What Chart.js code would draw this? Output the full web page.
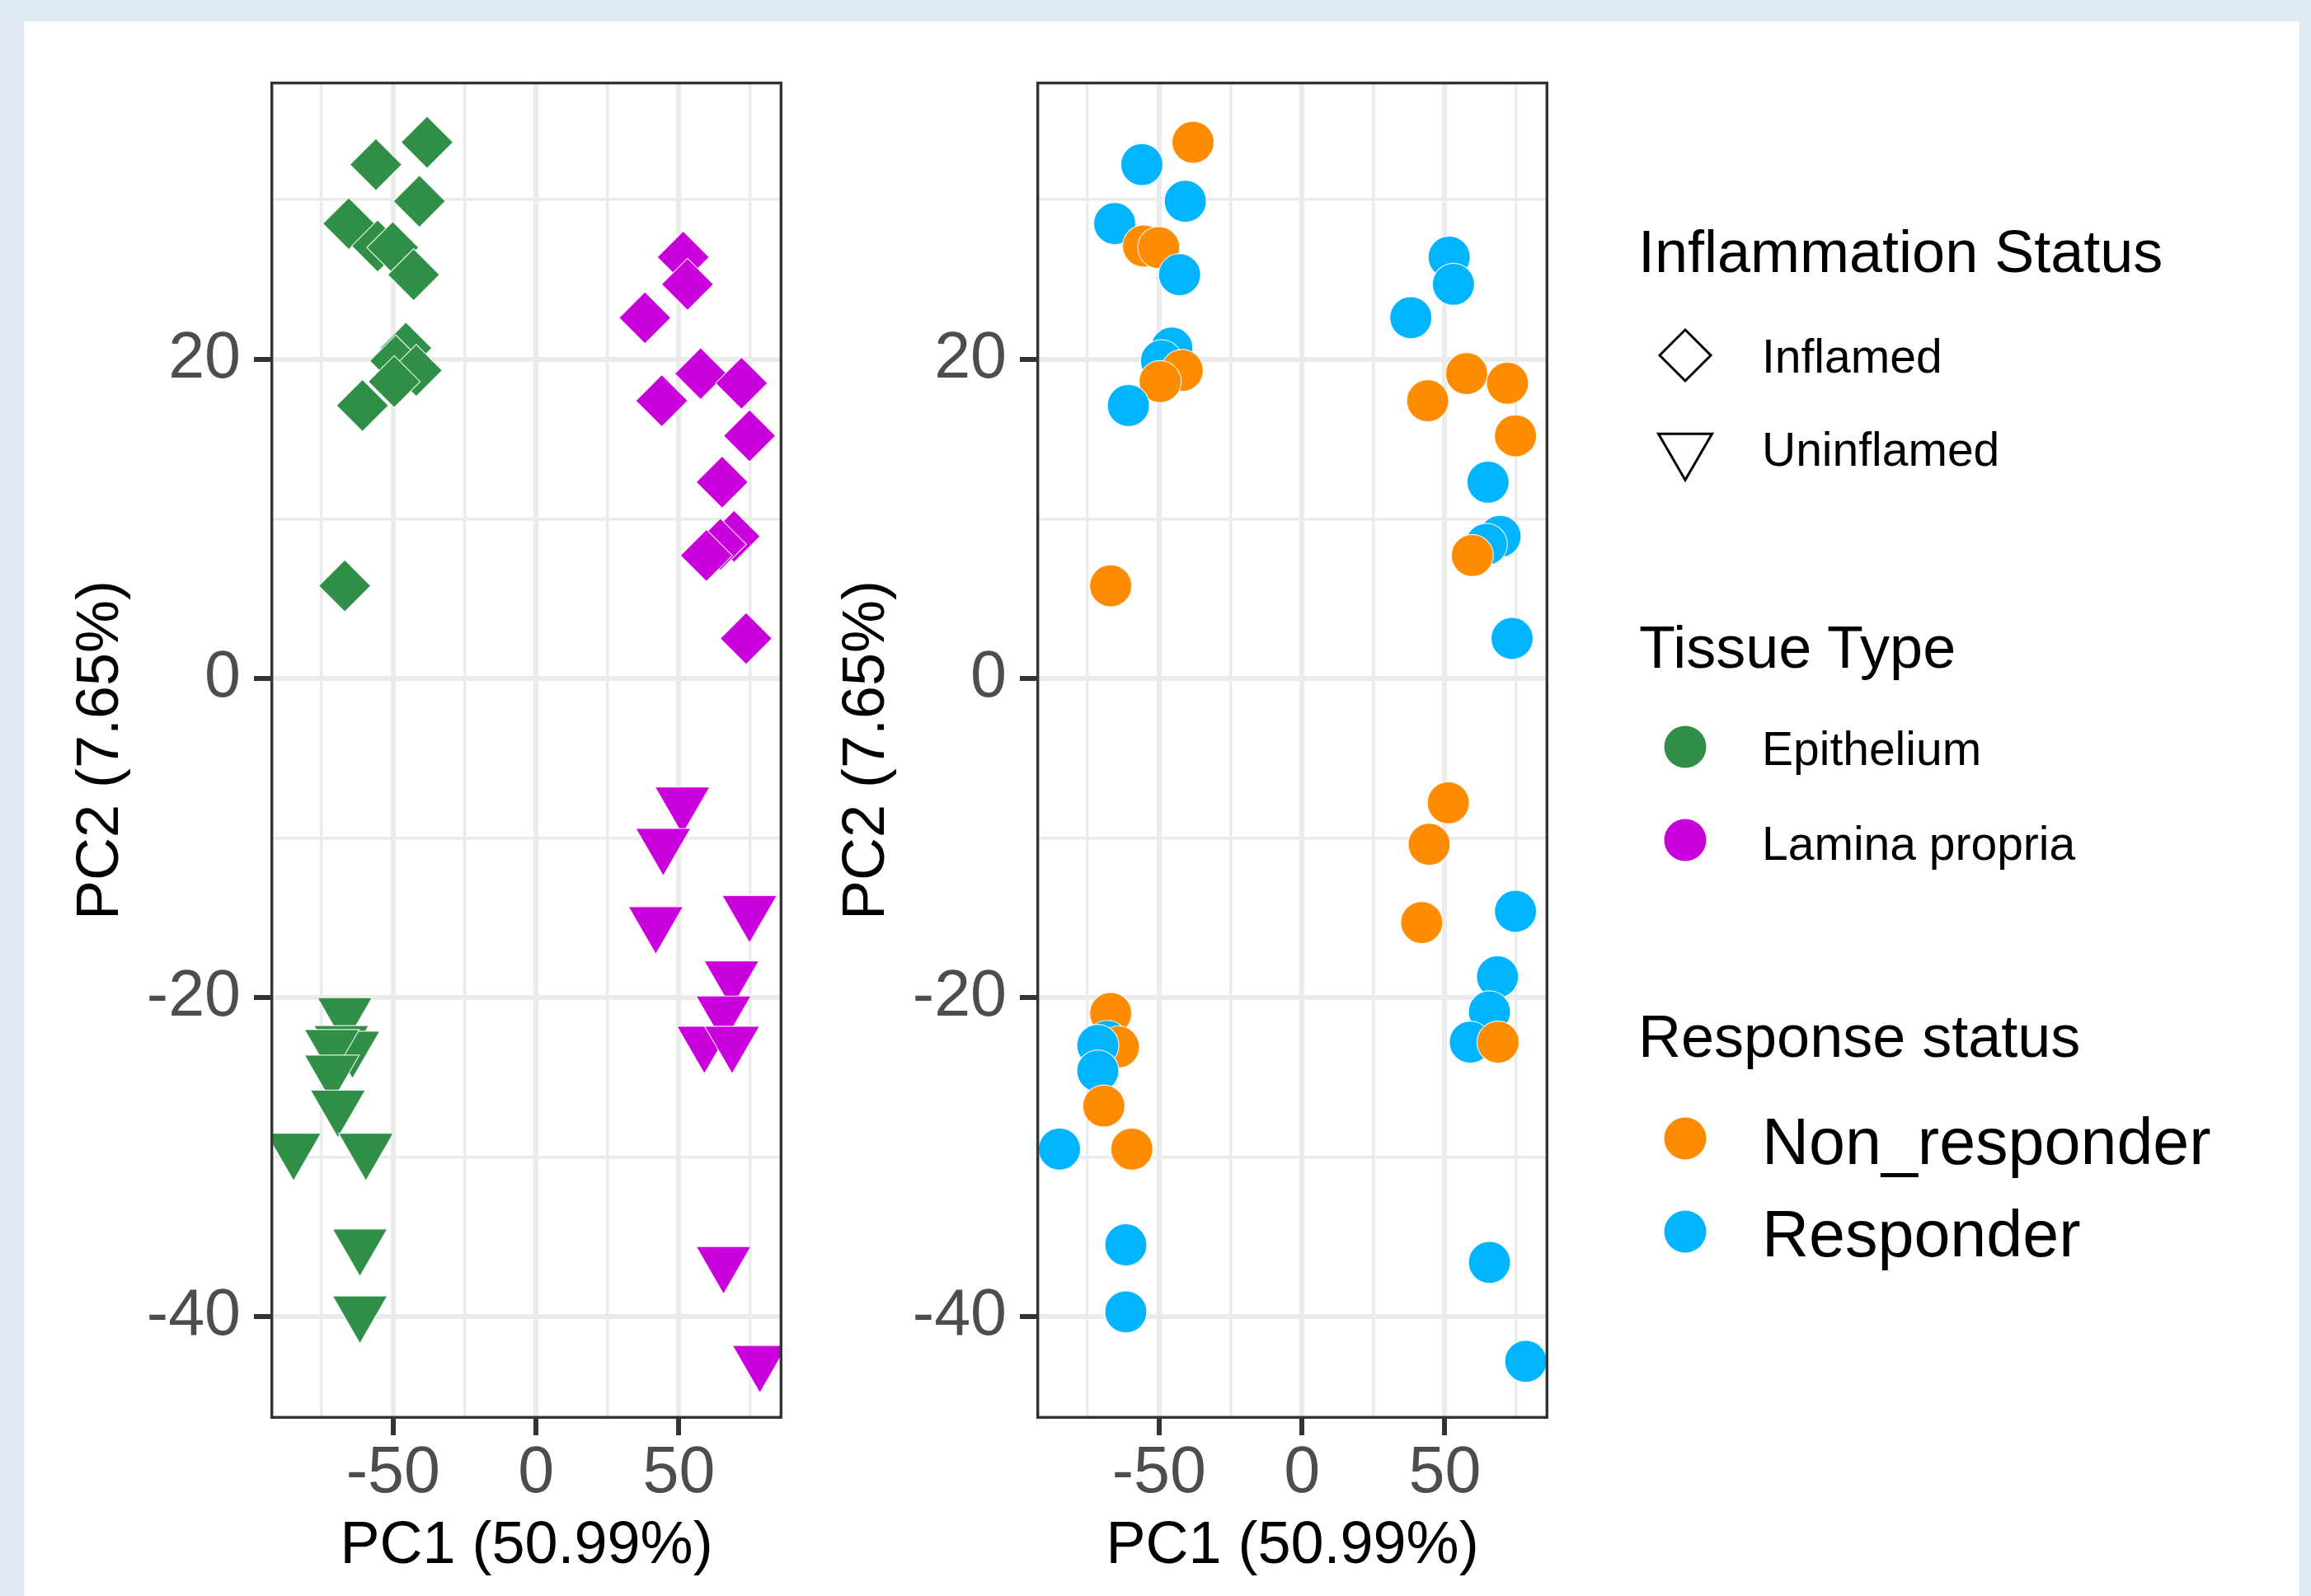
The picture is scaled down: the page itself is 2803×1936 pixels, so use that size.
<!DOCTYPE html>
<html>
<head>
<meta charset="utf-8">
<title>PCA by tissue, inflammation and response</title>
<script src="https://cdn.jsdelivr.net/npm/chart.js@4.4.1/dist/chart.umd.min.js"></script>
<style>
  html, body { margin: 0; padding: 0; }
  body {
    width: 2803px; height: 1936px; overflow: hidden; position: relative;
    background: #dfeaf4;
    font-family: 'Liberation Sans', Helvetica, Arial, sans-serif;
  }
  .card { position: absolute; left: 29px; top: 26px; width: 2760px; height: 1960px; background: #fff; }
  canvas { position: absolute; top: 26px; }
  #pcaTissue { left: 29px; }
  #pcaResponse { left: 958px; }
  .lg-text { position: absolute; white-space: nowrap; color: #000; }
  .lg-key { position: absolute; }
</style>
</head>
<body>
<div class="card"></div>
<canvas id="pcaTissue" width="930" height="1910"></canvas>
<canvas id="pcaResponse" width="930" height="1910"></canvas>
<div id="legend"></div>
<script>
// PCA scores, one entry per sample
const pc1 = [
  -38.1, -56.0, -40.8, -65.5, -55.4, -50.1, -42.8, -45.5, -49.1, -41.9, -49.6, -60.7, -66.9,
  51.5, 53.0, 38.1, 57.6, 71.9, 44.0, 74.7, 65.1, 69.3, 64.5, 59.6, 73.5,
  -66.9, -68.1, -64.2, -71.4, -71.4, -69.3, -84.8, -59.5, -61.6, -61.6,
  51.2, 44.5, 41.9, 74.7, 68.4, 65.6, 58.9, 68.6, 65.6, 78.3
];
const pc2 = [
  33.6, 32.2, 29.9, 28.5, 27.1, 27.0, 25.3, 20.7, 19.9, 19.3, 18.6, 17.1, 5.8,
  26.4, 24.7, 22.6, 19.1, 18.5, 17.4, 15.2, 12.3, 8.9, 8.4, 7.7, 2.5,
  -21.0, -22.75, -23.1, -23.0, -24.6, -26.8, -29.5, -29.5, -35.5, -39.7,
  -7.8, -10.4, -15.3, -14.6, -18.7, -20.9, -22.8, -22.8, -36.6, -42.8
];
// E = Epithelium, L = Lamina propria
const tissue = 'EEEEEEEEEEEEELLLLLLLLLLLLEEEEEEEEEELLLLLLLLLL'.split('');
// I = Inflamed, U = Uninflamed
const inflammation = 'IIIIIIIIIIIIIIIIIIIIIIIIIUUUUUUUUUUUUUUUUUUUU'.split('');
// N = Non_responder, R = Responder
const response = 'NRRRNNRRRNNRNRRRNNNNRRRNRNRNRRNRNRRNNNRRRRNRR'.split('');

const tissueLevels = ['Epithelium', 'Lamina propria'];
const inflammationLevels = ['Inflamed', 'Uninflamed'];
const responseLevels = ['Non_responder', 'Responder'];

const xRange = [-92.9, 86.2];
const yRange = [-46.4, 37.4];
const xGridValues = [-75, -50, -25, 0, 25, 50, 75];
const yGridValues = [-40, -30, -20, -10, 0, 10, 20, 30];
const xTickLabels = [-50, 0, 50];
const yTickLabels = [-40, -20, 0, 20];

const tissueColours = { E: '#2f8f46', L: '#c900dc' };
const responseColours = { N: '#ff8c00', R: '#00b4ff' };

Chart.defaults.font.family = "'Liberation Sans', Helvetica, Arial, sans-serif";

// ggplot-like panel border drawn on top of the points
const panelBorder = {
  id: 'panelBorder',
  afterDatasetsDraw(chart) {
    const { ctx, chartArea: a } = chart;
    ctx.save();
    ctx.strokeStyle = '#333333';
    ctx.lineWidth = 3.4;
    ctx.strokeRect(a.left + 1.7, a.top + 1.7, a.right - a.left - 3.4, a.bottom - a.top - 3.4);
    ctx.restore();
  }
};

function gridOpts(majors) {
  return {
    color: '#ebebeb',
    lineWidth: c => majors.includes(c.tick.value) ? 6 : 3.5,
    tickLength: 20,
    tickWidth: 6,
    tickColor: c => majors.includes(c.tick.value) ? '#333333' : 'rgba(0,0,0,0)'
  };
}

function makePanel(id, colours, styles, rotations, radii) {
  return new Chart(document.getElementById(id), {
    type: 'scatter',
    data: {
      datasets: [{
        data: pc1.map((x, i) => ({ x: x, y: pc2[i] })),
        pointBackgroundColor: colours,
        pointBorderColor: 'rgba(255,255,255,0.85)',
        pointBorderWidth: 1.2,
        pointStyle: styles,
        pointRotation: rotations,
        pointRadius: radii,
        clip: 0
      }]
    },
    options: {
      responsive: false,
      animation: false,
      events: [],
      layout: { autoPadding: false, padding: { top: 73, right: 10, left: 0, bottom: 0 } },
      plugins: { legend: { display: false }, tooltip: { enabled: false } },
      scales: {
        x: {
          type: 'linear',
          min: xRange[0],
          max: xRange[1],
          afterBuildTicks: s => { s.ticks = xGridValues.map(v => ({ value: v })); },
          afterFit: s => { s.height = 215; },
          ticks: {
            autoSkip: false, maxRotation: 0, minRotation: 0, padding: 0,
            color: '#4d4d4d', font: { size: 79 },
            callback: v => xTickLabels.includes(v) ? String(v) : ''
          },
          grid: gridOpts(xTickLabels),
          border: { display: false },
          title: {
            display: true, text: 'PC1 (50.99%)', color: '#000',
            font: { size: 72 }, padding: { top: 0, bottom: 17 }
          }
        },
        y: {
          type: 'linear',
          min: yRange[0],
          max: yRange[1],
          afterBuildTicks: s => { s.ticks = yGridValues.map(v => ({ value: v })); },
          afterFit: s => { s.width = 299; },
          ticks: {
            autoSkip: false, padding: 16,
            color: '#4d4d4d', font: { size: 79 },
            callback: v => yTickLabels.includes(v) ? String(v) : ''
          },
          grid: gridOpts(yTickLabels),
          border: { display: false },
          title: {
            display: true, text: 'PC2 (7.65%)', color: '#000',
            font: { size: 72 }, padding: { top: 51, bottom: 0 }
          }
        }
      }
    },
    plugins: [panelBorder]
  });
}

// left: colour = tissue, shape = inflammation
makePanel(
  'pcaTissue',
  tissue.map(t => tissueColours[t]),
  inflammation.map(f => f === 'I' ? 'rectRot' : 'triangle'),
  inflammation.map(f => f === 'I' ? 0 : 180),
  inflammation.map(f => f === 'I' ? 31.5 : 38.4)
);

// right: colour = response status, all circles
makePanel(
  'pcaResponse',
  response.map(r => responseColours[r]),
  response.map(() => 'circle'),
  response.map(() => 0),
  response.map(() => 25.5)
);

// legend (HTML, to the right of the panels)
const legend = document.getElementById('legend');
const keyX = 2044;

function addText(text, left, baseline, size) {
  const d = document.createElement('div');
  d.className = 'lg-text';
  d.textContent = text;
  d.style.fontSize = size + 'px';
  d.style.lineHeight = size + 'px';
  d.style.left = left + 'px';
  d.style.top = (baseline - 0.8465 * size) + 'px';
  legend.appendChild(d);
}

function addKey(kind, cy, colour) {
  const ns = 'http://www.w3.org/2000/svg';
  const svg = document.createElementNS(ns, 'svg');
  svg.setAttribute('width', 90);
  svg.setAttribute('height', 90);
  svg.setAttribute('class', 'lg-key');
  svg.style.left = (keyX - 45) + 'px';
  svg.style.top = (cy - 45) + 'px';
  let el;
  if (kind === 'diamond') {
    el = document.createElementNS(ns, 'polygon');
    el.setAttribute('points', '14,45 45,14 76,45 45,76');
    el.setAttribute('fill', 'none');
    el.setAttribute('stroke', '#000');
    el.setAttribute('stroke-width', 3);
  } else if (kind === 'triangle') {
    el = document.createElementNS(ns, 'polygon');
    el.setAttribute('points', '12.5,26.3 77.5,26.3 45,82.3');
    el.setAttribute('fill', 'none');
    el.setAttribute('stroke', '#000');
    el.setAttribute('stroke-width', 3);
  } else {
    el = document.createElementNS(ns, 'circle');
    el.setAttribute('cx', 45);
    el.setAttribute('cy', 45);
    el.setAttribute('r', 25.5);
    el.setAttribute('fill', colour);
  }
  svg.appendChild(el);
  legend.appendChild(svg);
}

addText('Inflammation Status', 1987, 330, 72);
addKey('diamond', 431);
addText(inflammationLevels[0], 2137, 452, 57);
addKey('triangle', 545);
addText(inflammationLevels[1], 2137, 565, 57);

addText('Tissue Type', 1988, 810, 72);
addKey('circle', 906, tissueColours.E);
addText(tissueLevels[0], 2137, 928, 57);
addKey('circle', 1019, tissueColours.L);
addText(tissueLevels[1], 2137, 1043, 57);

addText('Response status', 1987, 1282, 72);
addKey('circle', 1381, responseColours.N);
addText(responseLevels[0], 2137, 1412, 79);
addKey('circle', 1494, responseColours.R);
addText(responseLevels[1], 2137, 1524, 79);
</script>
</body>
</html>
